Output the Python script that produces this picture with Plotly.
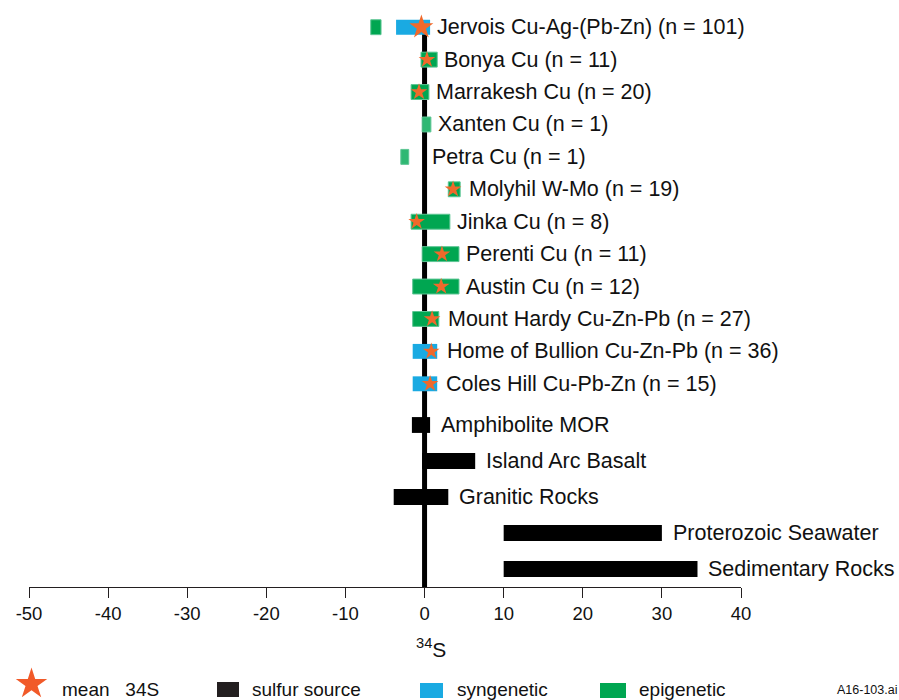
import math
import plotly.graph_objects as go

# ---- figure geometry -------------------------------------------------------
W, H = 899, 700
ML, MR, MT, MB = 29, 158, 11, 113
PW, PH = W - ML - MR, H - MT - MB


def px(x):
    """page pixel x -> paper fraction"""
    return (x - ML) / PW


def py(y):
    """page pixel y (from top) -> paper fraction"""
    return (H - MB - y) / PH


def star_path(cx, cy, r_out, ratio=0.382):
    """five-pointed star (point up) as an SVG path in paper coordinates"""
    pts = []
    for k in range(10):
        r = r_out if k % 2 == 0 else r_out * ratio
        a = math.radians(-90 + 36 * k)
        pts.append((px(cx + r * math.cos(a)), py(cy + r * math.sin(a))))
    return "M " + " L ".join(f"{x:.5f},{y:.5f}" for x, y in pts) + " Z"


FONT = "Liberation Sans, Arial, sans-serif"

# ---- data (delta 34S, per mil) ---------------------------------------------
deposits = [
    "Jervois Cu-Ag-(Pb-Zn)", "Bonya Cu", "Marrakesh Cu", "Xanten Cu", "Petra Cu",
    "Molyhil W-Mo", "Jinka Cu", "Perenti Cu", "Austin Cu", "Mount Hardy Cu-Zn-Pb",
    "Home of Bullion Cu-Zn-Pb", "Coles Hill Cu-Pb-Zn",
]
sample_counts = [101, 11, 20, 1, 1, 19, 8, 11, 12, 27, 36, 15]
mean_d34s = [-0.4, 0.3, -0.7, None, None, 3.6, -1.0, 2.2, 2.1, 0.95, 0.85, 0.7]

syn_deposits = ["Jervois Cu-Ag-(Pb-Zn)", "Home of Bullion Cu-Zn-Pb", "Coles Hill Cu-Pb-Zn"]
syn_min = [-3.6, -1.5, -1.5]
syn_max = [0.7, 1.6, 1.6]

epi_deposits = [
    "Jervois Cu-Ag-(Pb-Zn)", "Bonya Cu", "Marrakesh Cu", "Xanten Cu", "Petra Cu",
    "Molyhil W-Mo", "Jinka Cu", "Perenti Cu", "Austin Cu", "Mount Hardy Cu-Zn-Pb",
]
epi_min = [-6.8, -0.45, -1.7, -0.3, -3.0, 3.0, -1.7, -0.3, -1.5, -1.5]
epi_max = [-5.5, 1.6, 0.55, 0.8, -2.0, 4.5, 3.2, 4.35, 4.35, 1.8]

sources = ["Amphibolite MOR", "Island Arc Basalt", "Granitic Rocks",
           "Proterozoic Seawater", "Sedimentary Rocks"]
source_min = [-1.6, -0.3, -3.9, 10, 10]
source_max = [0.7, 6.4, 3.0, 30, 34.5]

x_ticks = [-50, -40, -30, -20, -10, 0, 10, 20, 30, 40]

# ---- colours ----------------------------------------------------------------
C_SYN = "#1aaae2"
C_EPI = "#00a651"
C_EPI_SINGLE = "#2fb873"
C_EPI_EDGE = "#5cc593"
C_SRC = "#000000"
C_STAR = "#f0692b"
C_STAR_KEY = "#f15a29"
C_TEXT = "#111111"

count_of = dict(zip(deposits, sample_counts))

fig = go.Figure()

# syngenetic ranges
fig.add_trace(go.Bar(
    y=syn_deposits, base=syn_min,
    x=[hi - lo for lo, hi in zip(syn_min, syn_max)],
    orientation="h", width=0.46, marker=dict(color=C_SYN, line=dict(width=0)),
    xaxis="x", yaxis="y", showlegend=False, hoverinfo="skip",
))

# epigenetic ranges (single-analysis deposits drawn slightly lighter)
fig.add_trace(go.Bar(
    y=epi_deposits, base=epi_min,
    x=[hi - lo for lo, hi in zip(epi_min, epi_max)],
    orientation="h", width=0.46,
    marker=dict(color=[C_EPI_SINGLE if count_of[d] == 1 else C_EPI for d in epi_deposits],
                line=dict(color=C_EPI_EDGE, width=1)),
    xaxis="x", yaxis="y", showlegend=False, hoverinfo="skip",
))

# sulfur source reservoirs
fig.add_trace(go.Bar(
    y=sources, base=source_min,
    x=[hi - lo for lo, hi in zip(source_min, source_max)],
    orientation="h", width=0.44, marker=dict(color=C_SRC, line=dict(width=0)),
    xaxis="x", yaxis="y2", showlegend=False, hoverinfo="skip",
))

# mean values
star_y = [d for d, m in zip(deposits, mean_d34s) if m is not None]
star_x = [m for m in mean_d34s if m is not None]
fig.add_trace(go.Scatter(
    x=star_x, y=star_y, mode="markers",
    marker=dict(symbol="star", color=C_STAR, opacity=1, line=dict(width=0),
                size=[18 if d.startswith("Jervois") else 12.5 for d in star_y]),
    xaxis="x", yaxis="y", showlegend=False, hoverinfo="skip", cliponaxis=False,
))

annotations = []

# deposit labels, placed just right of the range bars / mean star / zero line
ranges = {}
for d, lo, hi in zip(syn_deposits, syn_min, syn_max):
    ranges.setdefault(d, []).append(hi)
for d, lo, hi in zip(epi_deposits, epi_min, epi_max):
    ranges.setdefault(d, []).append(hi)
for d, n, m in zip(deposits, sample_counts, mean_d34s):
    right = max(ranges.get(d, [0]) + ([m + 1.15] if m is not None else []) + [0.1])
    annotations.append(dict(
        x=right, y=d, xref="x", yref="y", xanchor="left", yanchor="middle",
        xshift=5, text=f"{d} (n = {n})", showarrow=False,
        font=dict(family=FONT, size=21.5, color=C_TEXT),
    ))

for s, hi in zip(sources, source_max):
    annotations.append(dict(
        x=max(hi, 0.35), y=s, xref="x", yref="y2", xanchor="left", yanchor="middle",
        xshift=9, text=s, showarrow=False,
        font=dict(family=FONT, size=21.5, color=C_TEXT),
    ))

# axis title
annotations.append(dict(
    x=0, y=py(648), xref="x", yref="paper", xanchor="center", yanchor="middle",
    xshift=6, text="<sup>34</sup>S", showarrow=False,
    font=dict(family=FONT, size=21, color=C_TEXT),
))

# key
key_font = dict(family=FONT, size=19, color=C_TEXT)
key_items = [
    (60, "mean\u00a0\u00a0\u00a034S"),
    (250, "sulfur source"),
    (455, "syngenetic"),
    (637, "epigenetic"),
]
for kx, kt in key_items:
    annotations.append(dict(
        x=px(kx), y=py(689), xref="paper", yref="paper", xanchor="left",
        yanchor="middle", text=kt, showarrow=False, font=key_font,
    ))
annotations.append(dict(
    x=px(835), y=py(690), xref="paper", yref="paper", xanchor="left",
    yanchor="middle", text="A16-103.ai", showarrow=False,
    font=dict(family=FONT, size=12.5, color=C_TEXT),
))

shapes = [
    # zero line
    dict(type="line", xref="x", yref="paper", x0=0, x1=0, y0=0, y1=py(20),
         line=dict(color="black", width=5), layer="below"),
    # key star
    dict(type="path", xref="paper", yref="paper", path=star_path(31.5, 684, 16.5),
         fillcolor=C_STAR_KEY, line=dict(width=0)),
]
for (x0, x1, y0, y1, col) in [
    (217, 239, 682, 697, "#231f20"),
    (420, 443, 683, 698, C_SYN),
    (600, 626, 683, 698, C_EPI),
]:
    shapes.append(dict(type="rect", xref="paper", yref="paper",
                       x0=px(x0), x1=px(x1), y0=py(y1), y1=py(y0),
                       fillcolor=col, line=dict(width=0)))

fig.update_layout(
    width=W, height=H,
    margin=dict(l=ML, r=MR, t=MT, b=MB, pad=0),
    paper_bgcolor="white", plot_bgcolor="white",
    barmode="overlay",
    showlegend=False,
    xaxis=dict(
        range=[-50, 40], tickvals=x_ticks, ticktext=[str(t) for t in x_ticks],
        showgrid=False, zeroline=False, showline=True, linecolor="#231f20",
        linewidth=1, ticks="outside", ticklen=10, tickwidth=1, tickcolor="#231f20",
        tickfont=dict(family=FONT, size=18.5, color=C_TEXT),
        anchor="y2", fixedrange=True,
    ),
    yaxis=dict(
        domain=[py(400), 1], type="category", categoryorder="array",
        categoryarray=deposits, range=[len(deposits) - 0.5, -0.5],
        visible=False, fixedrange=True, anchor="x",
    ),
    yaxis2=dict(
        domain=[0, py(407)], type="category", categoryorder="array",
        categoryarray=sources, range=[len(sources) - 0.5, -0.5],
        visible=False, fixedrange=True, anchor="x",
    ),
    annotations=annotations,
    shapes=shapes,
)

fig.write_html("out.html")
